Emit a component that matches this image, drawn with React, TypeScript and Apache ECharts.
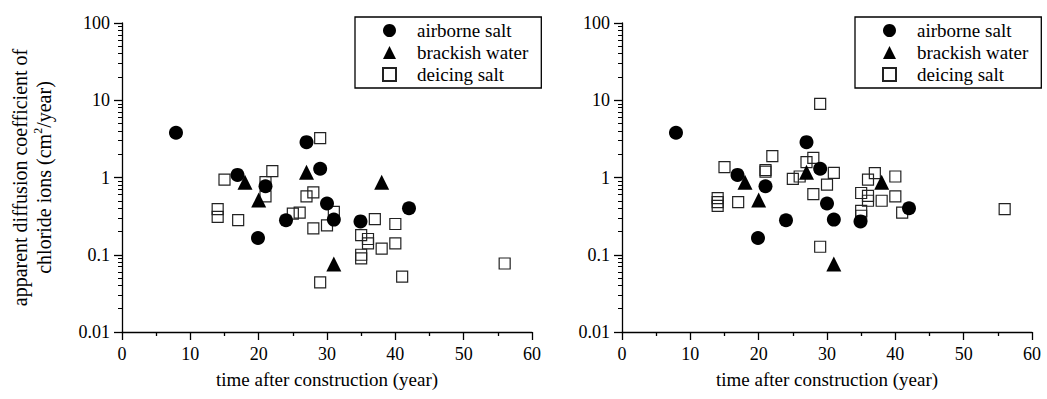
import React, { useEffect, useRef } from "react";
import * as echarts from "echarts";

// ---- data ----
const airborneX = [7.9, 16.9, 19.9, 21, 24, 27, 29, 30, 31, 34.9, 42];
const airborneY = [3.8, 1.08, 0.165, 0.77, 0.28, 2.87, 1.3, 0.46, 0.285, 0.27, 0.4];

const brackishX = [18, 20, 27, 31, 38];
const brackishY = [0.87, 0.51, 1.17, 0.076, 0.87];

const deicingLeftX = [14, 14, 15, 17, 21, 21, 22, 25, 26, 27, 28, 29, 28, 30, 31, 29, 35, 35, 35, 36, 36, 37, 38, 40, 40, 41, 56];
const deicingLeftY = [0.39, 0.31, 0.94, 0.28, 0.87, 0.57, 1.21, 0.34, 0.35, 0.57, 0.64, 3.24, 0.22, 0.24, 0.36, 0.044, 0.18, 0.1, 0.09, 0.16, 0.14, 0.29, 0.12, 0.25, 0.14, 0.052, 0.077];

const deicingRightX = [14, 14, 14, 15, 17, 21, 21, 22, 25, 26, 27, 28, 28, 29, 29, 30, 31, 35, 35, 35, 36, 36, 36, 37, 38, 40, 40, 41, 56];
const deicingRightY = [0.54, 0.48, 0.43, 1.36, 0.48, 1.25, 1.19, 1.89, 0.96, 1.03, 1.58, 1.8, 0.61, 9.0, 0.127, 0.81, 1.15, 0.63, 0.37, 0.32, 0.94, 0.58, 0.5, 1.14, 0.5, 1.03, 0.57, 0.35, 0.39];

const seriesNames = ["airborne salt", "brackish water", "deicing salt"];
const yTickLabels = ["0.01", "0.1", "1", "10", "100"];

const FONT = "'Liberation Serif', 'Times New Roman', serif";

function pairs(xs: number[], ys: number[]) {
  return xs.map((x, i) => [x, ys[i]]);
}

export default function App() {
  const ref = useRef<HTMLDivElement>(null);
  useEffect(() => {
    if (!ref.current) return;
    const chart = echarts.init(ref.current, undefined, { renderer: "svg" });

    const grids = [
      { left: 122, right: 515, top: 23, bottom: 67 },
      { left: 622, right: 15, top: 23, bottom: 67 },
    ];

    const xAxis = grids.map((_, i) => ({
      type: "value",
      gridIndex: i,
      min: 0,
      max: 60,
      interval: 10,
      name: "time after construction (year)",
      nameLocation: "middle",
      nameGap: 38,
      nameTextStyle: { fontFamily: FONT, fontSize: 19, color: "#000" },
      axisLine: { show: true, onZero: false, lineStyle: { color: "#000", width: 1.3 } },
      axisTick: { show: true, length: 8, lineStyle: { color: "#000", width: 1.3 } },
      minorTick: { show: true, splitNumber: 2, length: 4, lineStyle: { color: "#000", width: 1.3 } },
      splitLine: { show: false },
      axisLabel: { margin: 13, fontFamily: FONT, fontSize: 18, color: "#000" },
    }));

    const yAxis = grids.map((_, i) => ({
      type: "log",
      logBase: 10,
      gridIndex: i,
      min: 0.01,
      max: 100,
      name:
        i === 0
          ? "apparent diffusion coefficient of\nchloride ions (cm{sup|2}/year)"
          : "",
      nameLocation: "middle",
      nameGap: 66,
      nameRotate: 90,
      nameTextStyle: {
        fontFamily: FONT,
        fontSize: 20,
        color: "#000",
        lineHeight: 24,
        rich: {
          sup: { fontFamily: FONT, fontSize: 12, color: "#000", verticalAlign: "top", padding: [0, 0, 9, 0] },
        },
      },
      axisLine: { show: true, onZero: false, lineStyle: { color: "#000", width: 1.3 } },
      axisTick: { show: true, length: 8, lineStyle: { color: "#000", width: 1.3 } },
      minorTick: { show: true, splitNumber: 9, length: 4, lineStyle: { color: "#000", width: 1 } },
      splitLine: { show: false },
      minorSplitLine: { show: false },
      axisLabel: {
        margin: 12,
        fontFamily: FONT,
        fontSize: 18,
        color: "#000",
        formatter: (v: number) => yTickLabels[Math.round(Math.log10(v)) + 2] ?? "",
      },
    }));

    const series: any[] = [];
    [0, 1].forEach((i) => {
      series.push({
        name: "deicing salt",
        type: "scatter",
        xAxisIndex: i,
        yAxisIndex: i,
        symbol: "rect",
        symbolSize: 11,
        z: 1,
        itemStyle: { color: "rgba(255,255,255,0)", borderColor: "#222", borderWidth: 1.2, opacity: 1 },
        data: pairs(i === 0 ? deicingLeftX : deicingRightX, i === 0 ? deicingLeftY : deicingRightY),
      });
      series.push({
        name: "airborne salt",
        type: "scatter",
        xAxisIndex: i,
        yAxisIndex: i,
        symbol: "circle",
        symbolSize: 14,
        z: 3,
        itemStyle: { color: "#000", opacity: 1 },
        data: pairs(airborneX, airborneY),
      });
      series.push({
        name: "brackish water",
        type: "scatter",
        xAxisIndex: i,
        yAxisIndex: i,
        symbol: "triangle",
        symbolSize: 15,
        z: 2,
        itemStyle: { color: "#000", opacity: 1 },
        data: pairs(brackishX, brackishY),
      });
    });

    const legend = [355, 855].map((left) => ({
      data: seriesNames,
      orient: "vertical",
      left,
      top: 17,
      padding: [4, 13, 4, 27],
      itemGap: 3,
      itemWidth: 13,
      itemHeight: 13,
      borderColor: "#000",
      borderWidth: 1.3,
      selectedMode: false,
      textStyle: { fontFamily: FONT, fontSize: 19, color: "#000", padding: [0, 0, 0, 16] },
    }));

    chart.setOption({
      animation: false,
      backgroundColor: "#fff",
      textStyle: { fontFamily: FONT },
      grid: grids,
      xAxis,
      yAxis,
      legend,
      series,
    });
    return () => chart.dispose();
  }, []);

  return (
    <div
      ref={ref}
      style={{ position: "fixed", left: 0, top: 0, width: 1047, height: 399 }}
    />
  );
}
